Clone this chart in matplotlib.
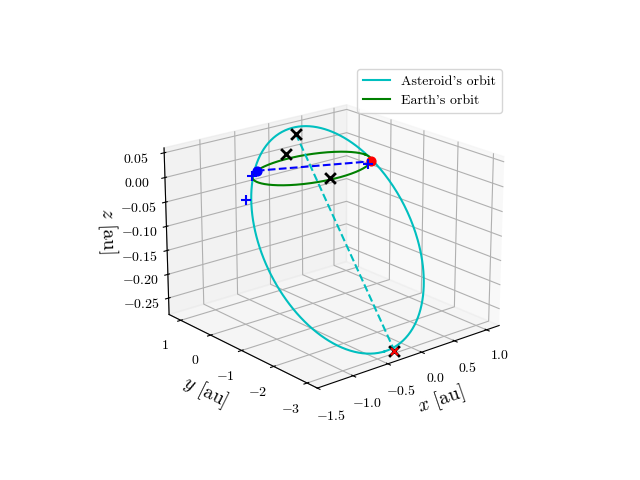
import numpy as np
import matplotlib
matplotlib.use("Agg")
import matplotlib.pyplot as plt

plt.rcParams.update({
    "font.family": "serif",
    "font.serif": ["cmr10"],
    "mathtext.fontset": "cm",
    "axes.formatter.use_mathtext": True,
    "axes.unicode_minus": True,
})

# asteroid orbit: centre, semi-axes (along major/minor directions), tilt in z
ast_center = [-0.05, -0.9, -0.115]
ast_major = [-0.3, -2.0, -0.165]
ast_minor = [1.05, -0.1, 0.0]
earth_radius = 0.8

# markers
sun = [-0.07, -0.69, 0.0]
earth_start = [-0.55, 0.58, 0.0]   # blue dot
earth_end = [0.68, -0.42, 0.0]     # red dot
ast_top = [0.22, 1.0, 0.04]
ast_bottom = [-0.25, -3.0, -0.28]
earth_x = [-0.02, 0.8, 0.01]
plus_pts = [[-0.7, 0.4, 0.0], [0.6, -0.5, 0.0], [-0.75, 0.5, -0.05]]

t = np.linspace(0, 2 * np.pi, 400)
ast = np.array(ast_center)[:, None] + np.outer(ast_major, np.cos(t)) + np.outer(ast_minor, np.sin(t))
earth = np.array([earth_radius * np.cos(t), earth_radius * np.sin(t), np.zeros_like(t)])

fig = plt.figure(figsize=(6.4, 4.8))
ax = fig.add_subplot(projection="3d")
ax.plot(*ast, color="c", label="Asteroid's orbit")
ax.plot(*earth, color="g", label="Earth's orbit")
ax.plot(*zip(earth_start, earth_end), "b--")
ax.plot(*zip(ast_top, ast_bottom), "c--")
ax.scatter(*earth_start, color="b", s=40, depthshade=False)
ax.scatter(*earth_end, color="r", s=40, depthshade=False)
for p in [sun, ast_top, ast_bottom, earth_x]:
    ax.scatter(*p, color="k", marker="x", s=60, linewidths=2, depthshade=False)
ax.scatter(*ast_bottom, color="r", marker="x", s=25, depthshade=False)
for p in plus_pts:
    ax.scatter(*p, color="b", marker="+", s=60, linewidths=1.5, depthshade=False)

ax.set_xlabel(r"$x$ [au]", fontsize=14)
ax.set_ylabel(r"$y$ [au]", fontsize=14)
ax.set_zlabel(r"$z$ [au]", fontsize=14)
ax.set_xticks([-1.5, -1.0, -0.5, 0.0, 0.5, 1.0])
ax.set_yticks([-3, -2, -1, 0, 1])
ax.set_zlim(-0.285, 0.06)
ax.view_init(elev=20, azim=-130)
fig.legend(loc="upper right", bbox_to_anchor=(0.795, 0.87))
fig.savefig("out.png", dpi=100)
